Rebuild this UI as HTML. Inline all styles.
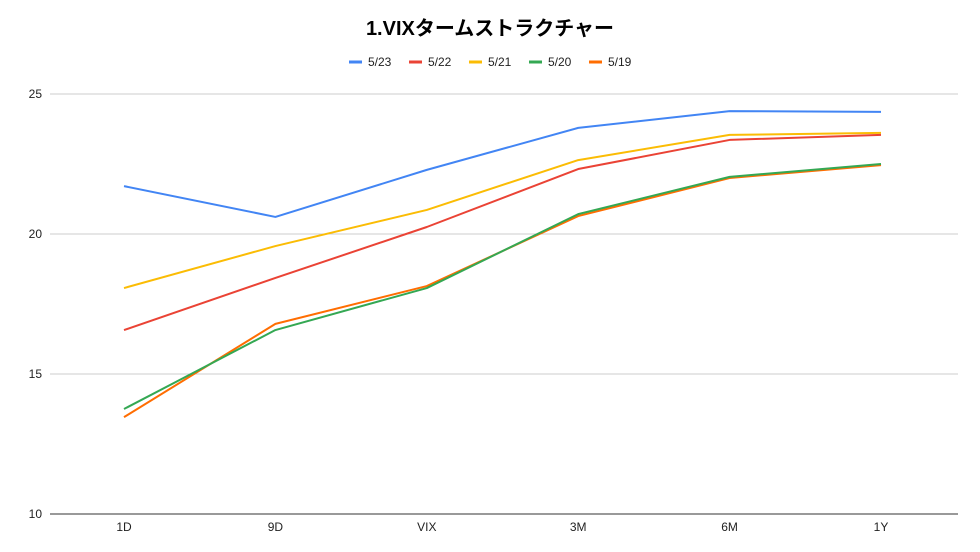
<!DOCTYPE html>
<html><head><meta charset="utf-8"><style>
body{margin:0;background:#fff;font-family:"Liberation Sans","Noto Sans CJK JP",sans-serif;}
svg{display:block}
</style></head><body>
<svg id="chart" width="980" height="552">
<rect width="980" height="552" fill="#fff"/>
<text x="490" y="35" text-anchor="middle" font-size="20" font-weight="bold" font-family="Liberation Sans, Noto Sans CJK JP, sans-serif">1.VIXタームストラクチャー</text>
<g id="grid"></g><g id="legend"></g><g id="lines"></g>
</svg>
<script>
const categories=["1D","9D","VIX","3M","6M","1Y"];
const seriesNames=["5/23","5/22","5/21","5/20","5/19"];
const s523=[21.71,20.61,22.29,23.79,24.39,24.36];
const s522=[16.57,18.43,20.25,22.32,23.36,23.54];
const s521=[18.07,19.57,20.86,22.64,23.54,23.61];
const s520=[13.75,16.57,18.07,20.71,22.04,22.5];
const s519=[13.46,16.79,18.14,20.64,22.0,22.46];
const yTicks=[10,15,20,25];
const colors=["#4285f4","#ea4335","#fbbc04","#34a853","#ff6d01"];
const series=[s523,s522,s521,s520,s519];
const NS="http://www.w3.org/2000/svg";
const x=i=>124+i*151.4;
const y=v=>514-(v-10)*28;
function mk(t,a,p){const e=document.createElementNS(NS,t);for(const k in a)e.setAttribute(k,a[k]);p.appendChild(e);return e;}
const grid=document.getElementById('grid');
yTicks.forEach(t=>{
 const l=mk('line',{x1:50,x2:958,y1:y(t),y2:y(t),stroke:t===10?'#333':'#ccc','stroke-width':1},grid);
 
 
 const tx=mk('text',{x:42,y:y(t)+4,'text-anchor':'end','font-size':12,fill:'#222'},grid);
 tx.textContent=t;
 
 
});
categories.forEach((c,i)=>{
 const tx=mk('text',{x:x(i),y:531,'text-anchor':'middle','font-size':12,fill:'#222'},grid);
 tx.textContent=c;
 
 
});
const lg=document.getElementById('legend');
seriesNames.forEach((n,i)=>{
 const gx=349+i*60;
 const g=mk('g',{},lg);
 
 
 mk('line',{x1:gx,x2:gx+13,y1:62,y2:62,stroke:colors[i],'stroke-width':3},g);
 const t=mk('text',{x:gx+19,y:66,'font-size':12,fill:'#222'},g);
 t.textContent=n;
});
const lines=document.getElementById('lines');
for(let s=series.length-1;s>=0;s--){
 const p=mk('polyline',{points:series[s].map((v,i)=>x(i)+','+y(v)).join(' '),fill:'none',stroke:colors[s],'stroke-width':2,'stroke-linejoin':'round'},lines);
 
 
}
</script>
</body></html>
